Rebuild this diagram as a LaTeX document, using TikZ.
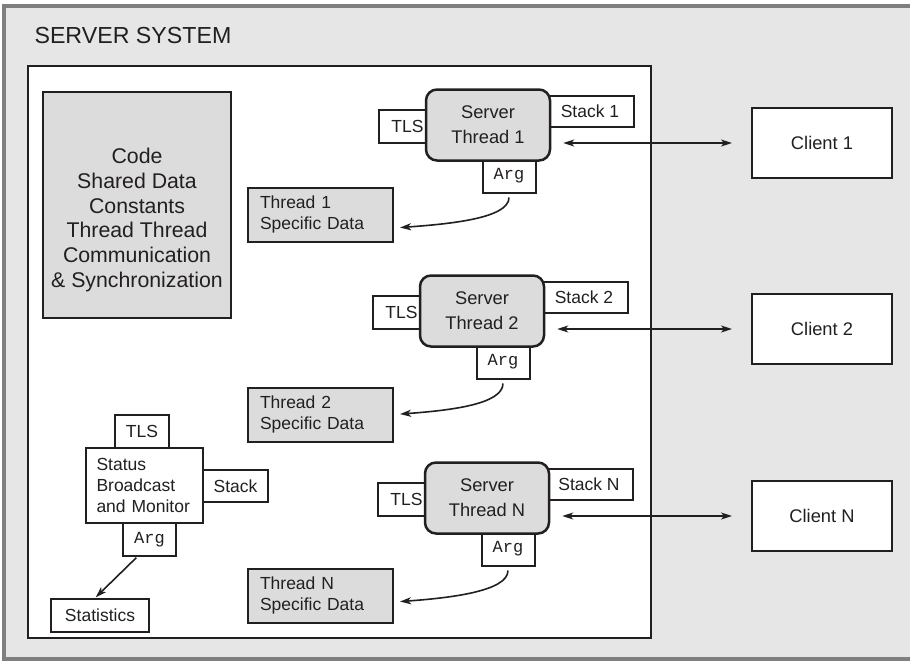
\documentclass[tikz,border=0pt]{standalone}
\usepackage{fontspec}
\setmainfont{Liberation Sans}
\setmonofont{Liberation Mono}
\usetikzlibrary{arrows.meta}

\definecolor{ink}{HTML}{231F20}
\definecolor{panel}{HTML}{E6E6E6}
\definecolor{shade}{HTML}{DCDCDC}
\definecolor{rim}{HTML}{7F7F7F}

\tikzset{
	box/.style={draw=ink, line width=2pt, fill=white, text=ink, inner sep=0pt,
		font=\fontsize{17.5}{21}\selectfont},
	thread/.style={box, fill=shade, rounded corners=11pt, line width=2.5pt,
		minimum width=124pt, minimum height=71pt, align=center,
		font=\fontsize{18.3}{25}\selectfont},
	tlsbox/.style={box, minimum width=57pt, minimum height=33pt},
	stackbox/.style={box, minimum width=88pt, minimum height=31pt},
	argbox/.style={box, minimum width=53pt, minimum height=34pt,
		font=\fontsize{17}{20}\ttfamily},
	spec/.style={box, fill=shade, minimum width=145pt, minimum height=54pt,
		text width=121pt, align=left},
	client/.style={box, minimum width=140pt, minimum height=70pt,
		font=\fontsize{18.3}{22}\selectfont},
	link/.style={draw=ink, line width=1.6pt, -{Stealth[length=11pt, width=7pt, inset=3pt]}},
	dlink/.style={link, {Stealth[length=11pt, width=7pt, inset=3pt]}-{Stealth[length=11pt, width=7pt, inset=3pt]}}
}

\begin{document}
\begin{tikzpicture}[x=1pt, y=-1pt]
	\useasboundingbox (0,0) rectangle (910,661);
	% frames
	\draw[rim, line width=4pt, fill=panel] (4,6) rectangle (920,659);
	\node[anchor=base west, text=ink, font=\fontsize{23.2}{27}\selectfont] (title) at (31,44) {SERVER SYSTEM};
	\draw[ink, line width=2pt, fill=white] (28,66) rectangle (651,638);

	% shared part
	\node[box, fill=shade, minimum width=188pt, minimum height=226pt] (code) at (137,205) {};
	\node[text=ink, align=center, font=\fontsize{21.3}{24.8}\selectfont] (codetext) at (137,220)
		{Code\\Shared Data\\Constants\\Thread Thread\\Communication\\\& Synchronization};

	% server threads
	\foreach \n/\x/\y/\sy/\ey/\cy in {1/488/125/214.5/13.5/143, 2/482/311/414.5/0/329, N/487/498/595.5/6.5/516} {
		\node[tlsbox] (tls\n) at ({\x-80.5},{\y+1}) {TLS};
		\node[stackbox] (stack\n) at ({\x+102},{\y-13.5}) {Stack \n};
		\node[argbox] (arg\n) at ({\x+21},{\y+50.5}) {Arg};
		\node[thread] (thread\n) at (\x,\y) {Server\\Thread \n};
		\node[spec] (spec\n) at (320.5,\sy) {Thread \n\\Specific Data};
		\node[client] (client\n) at (822,\cy) {Client \n};
		\draw[link, shorten <=4pt, shorten >=6pt] (arg\n.south)
			.. controls +(0,25) and +(55,-4) .. ([yshift=-\ey pt]spec\n.east);
		\draw[dlink, shorten <=12pt, shorten >=19pt] (thread\n.east |- client\n.west) -- (client\n.west);
	}

	% monitor thread
	\node[box, minimum width=54pt, minimum height=33pt] (stattls) at (142,431.5) {TLS};
	\node[box, minimum width=65pt, minimum height=32pt] (statstack) at (235.5,486) {Stack};
	\node[box, minimum width=117pt, minimum height=75pt, text width=96pt, align=left] (status) at (144.5,485.5)
		{Status\\Broadcast\\and Monitor};
	\node[argbox, minimum height=33pt] (statarg) at (149.5,539.5) {Arg};
	\node[box, minimum width=98pt, minimum height=33pt] (stats) at (100,615.5) {Statistics};
	\draw[link, shorten <=1pt, shorten >=1pt] ([xshift=-12.5pt]statarg.south) -- ([xshift=-5pt]stats.north);
\end{tikzpicture}
\end{document}
